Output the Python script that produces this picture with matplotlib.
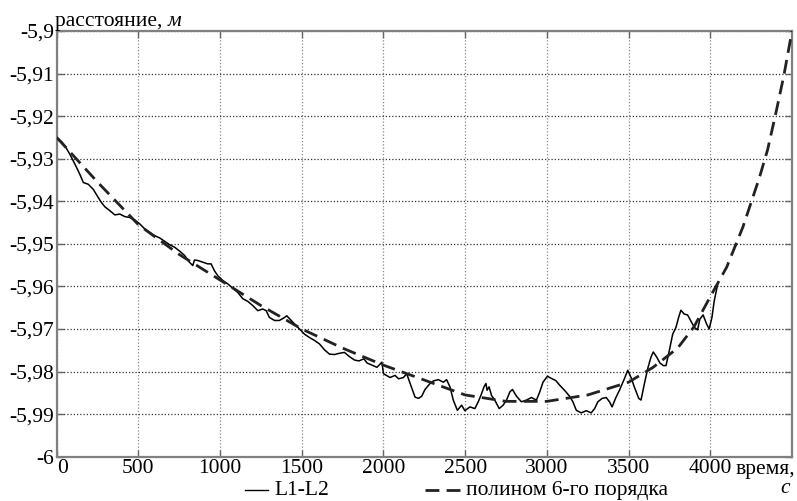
import matplotlib
matplotlib.use("Agg")
import matplotlib.pyplot as plt
from matplotlib.lines import Line2D

plt.rcParams['font.family'] = ['Liberation Serif', 'DejaVu Serif']

# ---- data ----
t_meas = [0, 30, 51, 81, 112, 142, 163, 193, 224, 254, 274, 295, 325, 356, 386, 417, 447, 478,
          508, 539, 569, 600, 630, 661, 691, 722, 752, 782, 812, 833, 843, 863, 894, 924, 945,
          965, 986, 1016, 1047, 1078, 1108, 1139, 1169, 1200, 1231, 1261, 1282, 1302, 1333,
          1363, 1394, 1408, 1425, 1455, 1486, 1516, 1547, 1578, 1608, 1639, 1669, 1700, 1731,
          1761, 1792, 1823, 1850, 1880, 1900, 1930, 1960, 1990, 2000, 2040, 2071, 2092, 2122,
          2142, 2163, 2193, 2214, 2234, 2254, 2285, 2305, 2336, 2366, 2386, 2407, 2427, 2452,
          2478, 2498, 2529, 2559, 2580, 2600, 2615, 2627, 2634, 2646, 2661, 2681, 2708, 2732,
          2753, 2773, 2789, 2814, 2844, 2875, 2905, 2936, 2956, 2976, 3003, 3027, 3054, 3078,
          3108, 3139, 3159, 3180, 3210, 3241, 3271, 3292, 3312, 3338, 3363, 3383, 3399, 3420,
          3444, 3474, 3495, 3515, 3535, 3562, 3576, 3597, 3617, 3637, 3651, 3672, 3692, 3713,
          3729, 3749, 3770, 3790, 3806, 3820, 3841, 3861, 3881, 3902, 3922, 3936, 3956, 3977,
          3993, 4010, 4024, 4044]
d_meas = [-5.925, -5.926, -5.927, -5.929, -5.9313, -5.9337, -5.9356, -5.936, -5.9372, -5.9391,
          -5.9403, -5.9413, -5.9422, -5.9432, -5.943, -5.9436, -5.9438, -5.9444, -5.9453,
          -5.9465, -5.9473, -5.9481, -5.9486, -5.9494, -5.9502, -5.9508, -5.9517, -5.9527,
          -5.9543, -5.9551, -5.9538, -5.9539, -5.9543, -5.9547, -5.9547, -5.9563, -5.9575,
          -5.9586, -5.9594, -5.9604, -5.9614, -5.9629, -5.9635, -5.9645, -5.9657, -5.9653,
          -5.9657, -5.9673, -5.968, -5.968, -5.9673, -5.9669, -5.9676, -5.9688, -5.970,
          -5.9712, -5.972, -5.9727, -5.9735, -5.9749, -5.9759, -5.976, -5.9757, -5.9755,
          -5.9765, -5.9773, -5.9775, -5.977, -5.978, -5.9785, -5.979, -5.9778, -5.9805,
          -5.9814, -5.9809, -5.9817, -5.9814, -5.9805, -5.9828, -5.986, -5.9863, -5.9858,
          -5.9842, -5.9828, -5.9822, -5.9819, -5.9825, -5.9819, -5.9836, -5.9867, -5.9891,
          -5.9879, -5.9892, -5.9883, -5.9887, -5.9871, -5.9852, -5.9836, -5.9828, -5.9844,
          -5.9836, -5.9856, -5.9867, -5.9887, -5.9879, -5.9867, -5.9848, -5.9842, -5.9858,
          -5.9871, -5.9867, -5.9861, -5.9867, -5.9848, -5.9825, -5.9811, -5.9816, -5.9821,
          -5.9832, -5.9844, -5.9858, -5.9871, -5.9891, -5.9897, -5.9892, -5.9897, -5.9887,
          -5.9871, -5.9863, -5.9861, -5.9871, -5.9883, -5.9863, -5.9844, -5.9817, -5.9797,
          -5.9814, -5.9836, -5.9863, -5.9867, -5.9828, -5.9793, -5.9766, -5.9754, -5.9766,
          -5.978, -5.9786, -5.9786, -5.9751, -5.9712, -5.9696, -5.9673, -5.9656, -5.9665,
          -5.9667, -5.9681, -5.9696, -5.9702, -5.9677, -5.9667, -5.9688, -5.970, -5.9673,
          -5.9634, -5.9597]

t_poly = [0, 250, 500, 750, 1000, 1250, 1500, 1750, 2000, 2250, 2500, 2750, 3000, 3250,
          3500, 3650, 3800, 3900, 4000, 4100, 4200, 4300, 4350, 4400, 4450, 4500]
d_poly = [-5.925, -5.9355, -5.9455, -5.9525, -5.9585, -5.9645, -5.970, -5.9745, -5.9785,
          -5.982, -5.9855, -5.987, -5.987, -5.9855, -5.9825, -5.979, -5.9745, -5.9695,
          -5.9624, -5.9555, -5.946, -5.9345, -5.928, -5.9195, -5.9105, -5.900]

x_ticks = [0, 500, 1000, 1500, 2000, 2500, 3000, 3500, 4000]
x_tick_labels = ['0', '500', '1000', '1500', '2000', '2500', '3000', '3500', '4000']
y_ticks = [-6.0, -5.99, -5.98, -5.97, -5.96, -5.95, -5.94, -5.93, -5.92, -5.91, -5.90]
y_tick_labels = ['-6', '-5,99', '-5,98', '-5,97', '-5,96', '-5,95', '-5,94', '-5,93',
                 '-5,92', '-5,91', '-5,9']

FS = 15.5

# ---- figure ----
W, H = 797, 501
fig = plt.figure(figsize=(W / 100, H / 100), dpi=100)
ax = fig.add_axes([56.7 / W, 1 - 456.7 / H, (792 - 56.7) / W, (456.7 - 31) / H])

ax.plot(t_meas, d_meas, color='black', lw=1.1, zorder=3)
ax.plot(t_poly, d_poly, color='#222222', lw=2.0, dashes=(5, 2.6), zorder=4)

ax.set_xlim(0, 4500)
ax.set_ylim(-6.0, -5.9)
ax.set_xticks(x_ticks)
ax.set_xticklabels(x_tick_labels)
ax.set_yticks(y_ticks)
ax.set_yticklabels(y_tick_labels)

ax.tick_params(axis='both', direction='in', length=5, width=1, color='#666666',
               labelsize=FS, top=True, right=True)
ax.tick_params(axis='x', pad=2)
ax.tick_params(axis='y', pad=2)
for lab in ax.get_xticklabels():
    if lab.get_text() == '0':
        lab.set_horizontalalignment('left')

ax.yaxis.grid(True, color='#333333', ls=(0, (1, 1.6)), lw=0.9)
ax.xaxis.grid(True, color='#888888', ls=(0, (1, 1.6)), lw=0.9)
ax.set_axisbelow(True)
for s in ax.spines.values():
    s.set_color('#808080')
    s.set_linewidth(1.6)

# axis titles
fig.canvas.draw()
r = fig.canvas.get_renderer()
t1 = fig.text(55 / W, 1 - 26 / H, 'расстояние, ', fontsize=FS, ha='left', va='baseline')
bb = t1.get_window_extent(renderer=r)
fig.text(bb.x1 / W, 1 - 26 / H, 'м', fontsize=FS, style='italic', ha='left', va='baseline')

fig.text(795 / W, 1 - 474 / H, 'время,', fontsize=FS, ha='right', va='baseline')
fig.text(785 / W, 1 - 493 / H, 'с', fontsize=FS, style='italic', ha='center', va='baseline')

# legend
fig.add_artist(Line2D([245 / W, 268 / W], [1 - 490 / H, 1 - 490 / H], color='black', lw=1.0))
fig.text(274 / W, 1 - 495 / H, 'L1-L2', fontsize=FS, ha='left', va='baseline')
fig.add_artist(Line2D([425 / W, 460 / W], [1 - 490 / H, 1 - 490 / H], color='#222222',
                      lw=2.0, dashes=(5, 2.6)))
fig.text(668 / W, 1 - 495 / H, 'полином 6-го порядка', fontsize=FS, ha='right', va='baseline')

fig.savefig('out.png', dpi=100)
